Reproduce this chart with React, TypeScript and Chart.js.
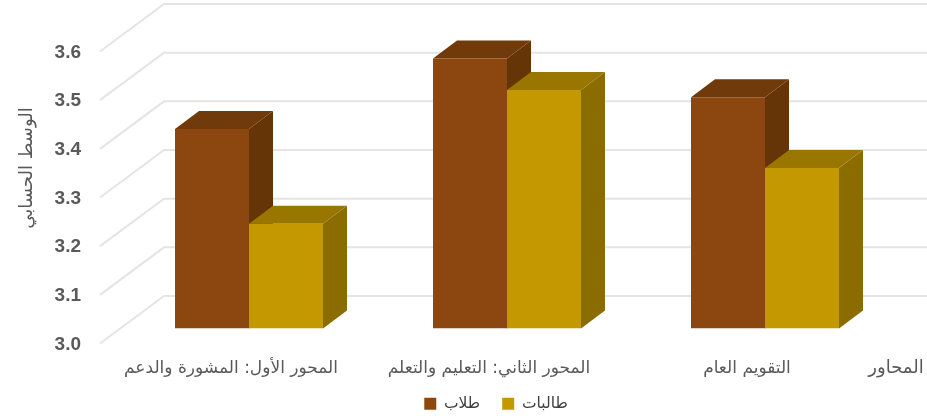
import React, { useEffect, useRef } from "react";
import { Chart, registerables } from "chart.js";

Chart.register(...registerables);

const categories = ["المحور الأول: المشورة والدعم", "المحور الثاني: التعليم والتعلم", "التقويم العام"];
const maleValues = [3.41, 3.555, 3.475];
const femaleValues = [3.215, 3.49, 3.33];
const seriesNames = ["طلاب", "طالبات"];
const yTitle = "الوسط الحسابي";
const xTitle = "المحاور";
const yMin = 3.0;
const yMax = 3.6;
const yStep = 0.1;

const FONT = '"Liberation Sans", sans-serif';
const AR_FONT = '"DejaVu Sans", sans-serif';
const faces = [
  { front: "#8C4711", top: "#703A0B", side: "#653407" },
  { front: "#C49800", top: "#987600", side: "#8A6C00" },
];
const DEPTH_X = 24;
const DEPTH_Y = 18;

const poly = (ctx: CanvasRenderingContext2D, pts: number[][], fill: string) => {
  ctx.beginPath();
  pts.forEach((p, i) => (i ? ctx.lineTo(p[0], p[1]) : ctx.moveTo(p[0], p[1])));
  ctx.closePath();
  ctx.fillStyle = fill;
  ctx.fill();
};

const scene3d = {
  id: "scene3d",
  beforeDraw(chart: any) {
    const l = chart.legend;
    if (l) {
      const h = l.bottom - l.top;
      const w = l.right - l.left;
      l.left = 49;
      l.right = l.left + w;
      l.top = 374;
      l.bottom = l.top + h;
    }
  },
  beforeDatasetsDraw(chart: any) {
    const { ctx, scales, chartArea } = chart;
    const y = scales.y;
    ctx.save();
    ctx.strokeStyle = "#E4E4E4";
    ctx.lineWidth = 2;
    y.ticks.forEach((t: any) => {
      const py = y.getPixelForValue(t.value);
      ctx.beginPath();
      ctx.moveTo(chartArea.left - 20, py + 15);
      ctx.lineTo(chartArea.left + 44, py - 32.5);
      ctx.lineTo(chart.width, py - 32.5);
      ctx.stroke();
    });
    chart.data.datasets.forEach((_: any, i: number) => {
      chart.getDatasetMeta(i).data.forEach((bar: any) => {
        const p = bar.getProps(["x", "y", "base", "width"]);
        const x0 = p.x - p.width / 2;
        const x1 = p.x + p.width / 2;
        poly(ctx, [[x1, p.y], [x1 + DEPTH_X, p.y - DEPTH_Y], [x1 + DEPTH_X, p.base - DEPTH_Y], [x1, p.base]], faces[i].side);
        poly(ctx, [[x0, p.y], [x0 + DEPTH_X, p.y - DEPTH_Y], [x1 + DEPTH_X, p.y - DEPTH_Y], [x1, p.y]], faces[i].top);
      });
    });
    ctx.restore();
  },
  afterDraw(chart: any) {
    const { ctx } = chart;
    ctx.save();
    ctx.fillStyle = "#595959";
    ctx.textAlign = "center";
    ctx.textBaseline = "middle";
    ctx.font = `18px ${AR_FONT}`;
    ctx.fillText(xTitle, 896, 368);
    ctx.translate(27, 168);
    ctx.rotate(-Math.PI / 2);
    ctx.fillText(yTitle, 0, 0);
    ctx.restore();
  },
};

export default function App() {
  const ref = useRef<HTMLCanvasElement>(null);
  useEffect(() => {
    document.body.style.margin = "0";
    const chart = new Chart(ref.current!, {
      type: "bar",
      plugins: [scene3d],
      data: {
        labels: categories,
        datasets: [
          { label: seriesNames[0], data: maleValues, backgroundColor: faces[0].front, base: yMin },
          { label: seriesNames[1], data: femaleValues, backgroundColor: faces[1].front, base: yMin },
        ],
      },
      options: {
        responsive: false,
        animation: false,
        layout: { padding: { top: 36.5, right: 33, left: 0, bottom: -62 } },
        datasets: { bar: { barPercentage: 1, categoryPercentage: 0.5736 } },
        plugins: {
          tooltip: { enabled: false },
          title: { display: false },
          legend: {
            position: "bottom",
            labels: {
              boxWidth: 12,
              boxHeight: 12,
              padding: 22,
              color: "#404040",
              font: { family: AR_FONT, size: 15.5 },
            },
          },
        },
        scales: {
          x: {
            grid: { display: false, drawTicks: false },
            border: { display: false },
            afterFit: (s: any) => { s.height = 104; },
            ticks: {
              padding: 30,
              maxRotation: 0,
              autoSkip: false,
              labelOffset: -18,
              color: "#595959",
              font: { family: AR_FONT, size: 17 },
            },
          },
          y: {
            min: yMin,
            max: yMax,
            grid: { display: false, drawTicks: false },
            border: { display: false },
            afterFit: (s: any) => {
              s.width = 120;
              s.paddingTop = 0;
              s.paddingBottom = 0;
            },
            ticks: {
              stepSize: yStep,
              padding: 39,
              labelOffset: 16,
              color: "#595959",
              font: { family: FONT, size: 19, weight: "bold" },
              callback: (v: any) => Number(v).toFixed(1),
            },
          },
        },
      } as any,
    });
    return () => chart.destroy();
  }, []);
  return (
    <div style={{ position: "absolute", left: 0, top: 0, width: 927, height: 418, overflow: "hidden", background: "#fff" }}>
      <canvas ref={ref} width={927} height={418} style={{ display: "block", width: 927, height: 418, filter: "blur(0.5px)" }} />
    </div>
  );
}
